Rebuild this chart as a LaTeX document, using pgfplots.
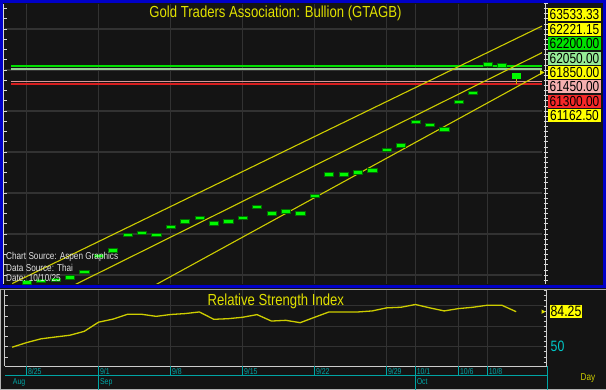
\documentclass[border=0pt]{standalone}
\usepackage{pgfplots}
\usepackage{pgfplotstable}
\pgfplotsset{compat=1.18}
\usepackage{fontspec}
\setmainfont{Liberation Sans}[FakeStretch=0.82]
\newfontfamily\nf{Liberation Sans}[FakeStretch=0.82]
\newcommand\fs[1]{\fontsize{#1}{#1}\selectfont}
\definecolor{bg}{RGB}{20,20,20}
\definecolor{gridc}{RGB}{50,50,50}
\definecolor{chy}{RGB}{205,205,0}
\definecolor{titley}{RGB}{225,225,0}
\definecolor{barg}{RGB}{0,250,0}
\definecolor{bard}{RGB}{0,110,0}
\definecolor{lvgreen}{RGB}{0,225,0}
\definecolor{lvlgreen}{RGB}{150,205,150}
\definecolor{lvpink}{RGB}{215,150,150}
\definecolor{lvred}{RGB}{215,30,30}
\definecolor{cyanc}{RGB}{0,200,200}
\definecolor{tealc}{RGB}{0,165,165}
\definecolor{blueb}{RGB}{0,0,200}
\definecolor{boxy}{RGB}{255,255,0}
\definecolor{boxg}{RGB}{0,225,0}
\definecolor{boxlg}{RGB}{150,235,150}
\definecolor{boxp}{RGB}{245,175,175}
\definecolor{boxr}{RGB}{245,40,40}
\definecolor{wick}{RGB}{210,170,0}
\definecolor{srcc}{RGB}{225,225,225}

\pgfdeclareplotmark{gbar}{\pgfpathrectangle{\pgfqpoint{-4.6pt}{-1.7pt}}{\pgfqpoint{9.2pt}{3.4pt}}\pgfusepathqfillstroke}

\pgfplotstableread{
i v
0 51650
1 51720
2 51770
3 51890
4 52160
5 52930
6 53200
7 53960
8 54050
9 53950
10 54360
11 54620
12 54800
13 54520
14 54620
15 54800
16 55320
17 55010
18 55110
19 55010
20 55870
21 56910
22 56910
23 57010
24 57110
25 58110
26 58330
27 59470
28 59330
29 59110
30 60440
31 60880
32 62280
33 62240
}\bars

\pgfplotstableread{
i r
-1 49.5
0 54.0
1 57.7
2 59.5
3 61.2
4 65.0
5 74.0
6 77.0
7 81.7
8 81.7
9 79.7
10 81.5
11 82.4
12 84.0
13 76.8
14 77.4
15 78.8
16 81.4
17 75.1
18 75.8
19 73.5
20 78.8
21 84.0
22 84.0
23 84.0
24 85.0
25 88.0
26 88.6
27 91.3
28 88.0
29 85.0
30 87.3
31 88.6
32 90.6
33 90.6
34 84.25
}\rsi

\begin{document}
\begin{tikzpicture}
\fill[bg] (0pt,0pt) rectangle (606pt,390pt);
\path[use as bounding box] (0pt,0pt) rectangle (606pt,390pt);

% ---------------- main price panel
\begin{axis}[
  at={(5pt,106pt)}, anchor=south west,
  scale only axis, width=537pt, height=280pt,
  xmin=-1.5, xmax=35.79, ymin=51561, ymax=65220,
  axis line style={draw=none},
  axis background/.style={fill=bg},
  xtick={0,5,10,15,20,25,27,30,32}, xticklabels={},
  ytick={52000,54000,56000,58000,60000,62000,64000}, yticklabels={},
  xmajorgrids, ymajorgrids,
  major grid style={draw=gridc, line width=1.3pt},
  tick style={draw=none},
]
% level lines
\addplot[draw=lvgreen, line width=1.8pt] coordinates {(-1.05,62200) (35.79,62200)};
\addplot[draw=lvlgreen, line width=1.3pt] coordinates {(-1.05,62050) (35.79,62050)};
\addplot[draw=lvpink, line width=1.5pt] coordinates {(-1.05,61450) (35.79,61450)};
\addplot[draw=lvred, line width=1.8pt] coordinates {(-1.05,61300) (35.79,61300)};
% channel lines
\addplot[draw=chy, line width=1.1pt] coordinates {(-1,51584) (35.79,64144)};
\addplot[draw=chy, line width=1.1pt] coordinates {(3,51402) (35.79,62845)};
\addplot[draw=chy, line width=1.1pt] coordinates {(9,51537) (35.79,61851)};
% price bars
\addplot[only marks, mark=gbar, mark options={fill=barg, draw=bard, line width=0.5pt}] table[x=i, y=v] {\bars};
% last candle
\addplot[draw=wick, line width=1.2pt] coordinates {(34,61300) (34,61560)};
\addplot[draw=barg, line width=9.2pt] coordinates {(34,61560) (34,61850)};
% cyan price labels
\begin{scope}[every node/.style={anchor=west, inner sep=0pt, text=cyanc, font=\nf\fs{15}}]
\node at (axis cs:35.79,59000) [xshift=7.3pt] {59000.00};
\node at (axis cs:35.79,58000) [xshift=7.3pt] {58000.00};
\node at (axis cs:35.79,57000) [xshift=7.3pt] {57000.00};
\node at (axis cs:35.79,56000) [xshift=7.3pt] {56000.00};
\node at (axis cs:35.79,55000) [xshift=7.3pt] {55000.00};
\node at (axis cs:35.79,54000) [xshift=7.3pt] {54000.00};
\node at (axis cs:35.79,53000) [xshift=7.3pt] {53000.00};
\node at (axis cs:35.79,52000) [xshift=7.3pt] {52000.00};
\end{scope}
\end{axis}

% ---------------- RSI panel
\begin{axis}[
  at={(5pt,24pt)}, anchor=south west,
  scale only axis, width=541pt, height=76pt,
  xmin=-1.5, xmax=36.07, ymin=31.1, ymax=105.5,
  axis line style={draw=none},
  axis background/.style={fill=bg},
  xtick={0,5,10,15,20,25,27,30,32}, xticklabels={},
  ytick={50,70,90}, yticklabels={},
  xmajorgrids, ymajorgrids,
  major grid style={draw=gridc, line width=1.2pt},
  tick style={draw=none},
]
\addplot[draw=chy, line width=1.3pt] table[x=i, y=r] {\rsi};
\end{axis}

\begin{scope}[x=1pt,y=1pt]
% ---------------- frames
\draw[blueb, line width=3pt] (1.5,103.5) rectangle (604.5,388.5);
\draw[gray!70, line width=1pt] (0,100.5) -- (606,100.5);
\draw[gray!60, line width=1pt] (0,0.5) -- (606,0.5);
\draw[gray!60, line width=1pt] (0.5,0) -- (0.5,101);
% main left axis and ticks
\draw[white!85!black, line width=0.7pt] (3.8,106) -- (3.8,386);
\foreach \k in {0,...,26} \draw[white!85!black, line width=0.7pt] (3.8,115+10.25*\k) -- (6.5,115+10.25*\k);
% main right axis and ticks
\draw[white!85!black, line width=0.8pt] (545,106) -- (545,386);
\foreach \k in {0,...,54} \draw[white!85!black, line width=0.6pt] (543.5,109.9+5.125*\k) -- (547.5,109.9+5.125*\k);
% RSI frame
\draw[white!80!black, line width=0.8pt] (4.5,24) -- (4.5,100);
\draw[white!80!black, line width=0.8pt] (4.5,24) -- (547,24);
\draw[white!80!black, line width=0.8pt] (546.5,24) -- (546.5,100);
\foreach \k in {0,...,6} \draw[white!80!black, line width=0.7pt] (4.5,33.1+10.215*\k) -- (7.5,33.1+10.215*\k);
\foreach \k in {0,...,14} \draw[white!80!black, line width=0.6pt] (543.5,28+5.1*\k) -- (546.5,28+5.1*\k);

% ---------------- date axis
\draw[tealc, line width=1pt] (5,14) -- (547,14);
\draw[tealc, line width=1pt] (547,0) -- (547,24);
\foreach \xx in {26.6,170.6,242.6,314.6,386.6,458.6,487.4} \draw[tealc, line width=1pt] (\xx,24) -- (\xx,14);
\foreach \xx in {98.6,415.4} \draw[tealc, line width=1pt] (\xx,24) -- (\xx,0);
\begin{scope}[every node/.style={anchor=west, inner sep=0pt, text=tealc, font=\nf\fs{8.5}}]
\node at (27.8,18.3) {8/25};
\node at (99.8,18.3) {9/1};
\node at (171.8,18.3) {9/8};
\node at (243.8,18.3) {9/15};
\node at (315.8,18.3) {9/22};
\node at (387.8,18.3) {9/29};
\node at (416.6,18.3) {10/1};
\node at (459.8,18.3) {10/6};
\node at (488.6,18.3) {10/8};
\node at (12.7,8) {Aug};
\node at (99.8,8) {Sep};
\node at (416.6,8) {Oct};
\end{scope}
\node[anchor=center, inner sep=0pt, text=chy, font=\nf\fs{10}] at (588,12) {Day};

% ---------------- titles
\node[anchor=base, inner sep=0pt, text=titley, font=\nf\fs{16}] at (275.5,372) {Gold Traders Association: Bullion (GTAGB)};
\node[anchor=base, inner sep=0pt, text=titley, font=\nf\fs{16}] at (275.8,84.2) {Relative Strength Index};

% ---------------- source text
\begin{scope}[every node/.style={anchor=west, inner sep=0pt, text=srcc, font=\nf\fs{10}}]
\node at (6,132.7) {Chart Source: Aspen Graphics};
\node at (6,121.7) {Data Source: Thai};
\node at (6,111.7) {Date: 10/10/25};
\end{scope}

% ---------------- right label boxes
\begin{scope}[every node/.style={inner sep=0pt, minimum width=53pt, minimum height=13pt, text=black, font=\nf\fs{14.5}}]
\node[fill=boxy] at (574.5,375) {63533.33};
\node[fill=boxy] at (574.5,360.6) {62221.15};
\node[fill=boxg] at (574.5,346.2) {62200.00};
\node[fill=boxlg] at (574.5,331.8) {62050.00};
\node[fill=boxy] at (574.5,317.4) {61850.00};
\node[fill=boxp] at (574.5,303) {61450.00};
\node[fill=boxr] at (574.5,288.6) {61300.00};
\node[fill=boxy] at (574.5,274.2) {61162.50};
\end{scope}
\fill[titley] (540,320) -- (544.5,317.5) -- (540,315) -- cycle;

% RSI last value
\node[fill=boxy, inner sep=0pt, minimum width=32pt, minimum height=13.3pt, text=black, font=\nf\fs{15}] at (566,78.3) {84.25};
\fill[titley] (541.5,80.5) -- (545.5,78.3) -- (541.5,76.1) -- cycle;
\node[anchor=west, inner sep=0pt, text=cyanc, font=\nf\fs{15}] at (550.5,43.3) {50};
\end{scope}
\end{tikzpicture}
\end{document}
